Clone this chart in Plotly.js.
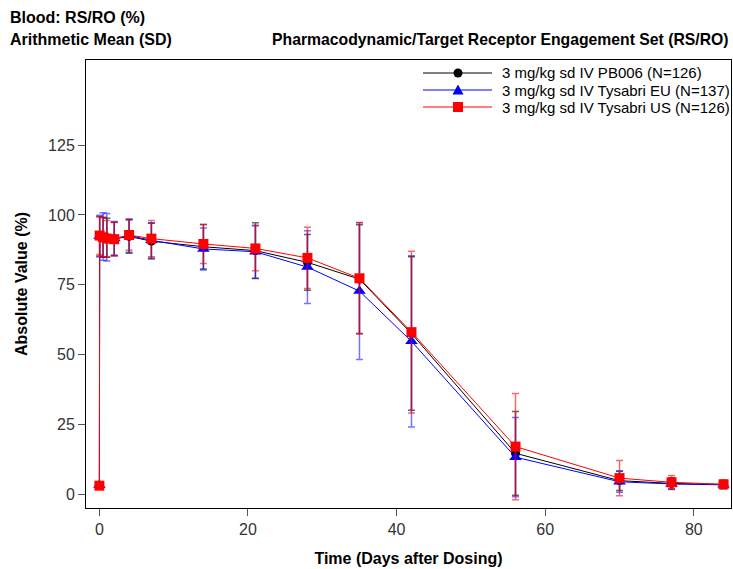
<!DOCTYPE html>
<html>
<head>
<meta charset="utf-8">
<script src="https://cdn.plot.ly/plotly-3.0.1.min.js"></script>
<style>body{margin:0;padding:0;background:#fff}#chart{width:733px;height:569px}</style>
</head>
<body>
<div id="chart"></div>
<script>
const days = [0, 0.04, 0.5, 1, 2, 4, 7, 14, 21, 28, 35, 42, 56, 70, 77, 84];

const pbName = "3 mg/kg sd IV PB006 (N=126)";
const pbMean = [3.0, 92.3, 92.0, 91.8, 91.4, 92.3, 90.6, 88.6, 87.2, 83.0, 77.0, 57.5, 14.6, 4.8, 3.8, 3.4];
const pbSD   = [1.0, 7.0, 7.2, 7.0, 6.0, 6.0, 6.4, 8.0, 10.0, 10.0, 19.5, 27.5, 15.0, 3.5, 2.0, 1.4];

const euName = "3 mg/kg sd IV Tysabri EU (N=137)";
const euMean = [3.2, 92.4, 92.3, 92.0, 91.6, 92.6, 90.9, 87.8, 86.8, 81.3, 72.7, 54.7, 13.2, 4.4, 3.6, 3.3];
const euSD   = [1.0, 7.5, 8.5, 8.5, 6.0, 6.0, 6.3, 7.5, 9.5, 13.0, 24.5, 30.7, 14.2, 3.8, 2.0, 1.4];

const usName = "3 mg/kg sd IV Tysabri US (N=126)";
const usMean = [3.0, 92.6, 92.0, 91.5, 91.3, 92.8, 91.5, 89.6, 88.0, 84.6, 77.3, 58.0, 17.0, 5.7, 4.2, 3.5];
const usSD   = [1.0, 6.8, 7.0, 6.5, 6.0, 5.5, 6.5, 7.0, 8.0, 11.0, 20.0, 29.0, 19.0, 6.3, 2.4, 1.5];

function mk(name, y, sd, color, barColor, symbol, size) {
  return {
    type: 'scatter', mode: 'lines+markers', name: name, showlegend: false,
    x: days, y: y,
    line: {color: color, width: 1},
    marker: {color: color, symbol: symbol, size: size},
    error_y: {type: 'data', array: sd, visible: true, color: barColor, thickness: 1.5, width: 3.5}
  };
}

const traces = [
  mk(pbName, pbMean, pbSD, '#000000', 'rgba(0,0,0,0.6)', 'circle', 9),
  mk(euName, euMean, euSD, '#0000ff', 'rgba(0,0,255,0.55)', 'triangle-up', 11),
  mk(usName, usMean, usSD, '#ff0000', 'rgba(255,0,0,0.6)', 'square', 10)
];

// plot area in pixels (for placing the hand-drawn legend)
const PL = 86, PR = 731, PT = 60, PB = 508;
const px = v => (v - PL) / (PR - PL);
const py = v => (PB - v) / (PB - PT);

const F = 'Liberation Sans, Arial, sans-serif';
const legendRows = [
  {name: pbName, color: '#000000', sym: 'circle', y: 73},
  {name: euName, color: '#0000ff', sym: 'triangle', y: 90},
  {name: usName, color: '#ff0000', sym: 'square', y: 107}
];
const shapes = [];
const annotations = [];
legendRows.forEach(r => {
  shapes.push({type: 'line', xref: 'paper', yref: 'paper', x0: px(423), x1: px(492), y0: py(r.y), y1: py(r.y),
               line: {color: r.color, width: 1}});
  const base = {xref: 'paper', yref: 'paper', xsizemode: 'pixel', ysizemode: 'pixel',
                xanchor: px(458), yanchor: py(r.y), fillcolor: r.color, line: {color: r.color, width: 0}};
  if (r.sym === 'circle') shapes.push(Object.assign({type: 'circle', x0: -4.5, x1: 4.5, y0: -4.5, y1: 4.5}, base));
  else if (r.sym === 'square') shapes.push(Object.assign({type: 'rect', x0: -5, x1: 5, y0: -5, y1: 5}, base));
  else shapes.push(Object.assign({type: 'path', path: 'M-5.5,-4.5L5.5,-4.5L0,5.5Z'}, base));
  annotations.push({xref: 'paper', yref: 'paper', x: px(500), y: py(r.y), xanchor: 'left', yanchor: 'middle',
                    text: r.name, showarrow: false, font: {family: F, size: 15, color: '#000'}});
});

annotations.push(
  {xref: 'paper', yref: 'paper', x: px(8), y: 1.0, xanchor: 'left', yanchor: 'middle', yshift: 43,
   text: '<b>Blood: RS/RO (%)</b>', showarrow: false, font: {family: F, size: 16, color: '#000'}},
  {xref: 'paper', yref: 'paper', x: px(8), y: 1.0, xanchor: 'left', yanchor: 'middle', yshift: 21,
   text: '<b>Arithmetic Mean (SD)</b>', showarrow: false, font: {family: F, size: 16, color: '#000'}},
  {xref: 'paper', yref: 'paper', x: px(731), y: 1.0, xanchor: 'right', yanchor: 'middle', yshift: 21,
   text: '<b>Pharmacodynamic/Target Receptor Engagement Set (RS/RO)</b>', showarrow: false, font: {family: F, size: 15.75, color: '#000'}}
);

const layout = {
  width: 733, height: 569,
  margin: {l: PL, r: 733 - PR, t: PT, b: 569 - PB},
  paper_bgcolor: '#fff', plot_bgcolor: '#fff',
  font: {family: F, color: '#000'},
  showlegend: false,
  xaxis: {
    range: [-1.8, 85], tickvals: [0, 20, 40, 60, 80], ticks: 'outside', ticklen: 7,
    tickcolor: '#555', tickfont: {family: F, size: 16, color: '#333'},
    showgrid: false, zeroline: false, showline: true, linecolor: '#000', mirror: true, linewidth: 1,
    title: {text: '<b>Time (Days after Dosing)</b>', font: {family: F, size: 16, color: '#000'}, standoff: 15}
  },
  yaxis: {
    range: [-5, 155.5], tickvals: [0, 25, 50, 75, 100, 125], ticks: 'outside', ticklen: 7,
    tickcolor: '#555', tickfont: {family: F, size: 16, color: '#333'},
    showgrid: false, zeroline: false, showline: true, linecolor: '#000', mirror: true, linewidth: 1,
    title: {text: '<b>Absolute Value (%)</b>', font: {family: F, size: 16, color: '#000'}, standoff: 16}
  },
  shapes: shapes,
  annotations: annotations
};

Plotly.newPlot('chart', traces, layout, {displayModeBar: false, staticPlot: true});
</script>
</body>
</html>
